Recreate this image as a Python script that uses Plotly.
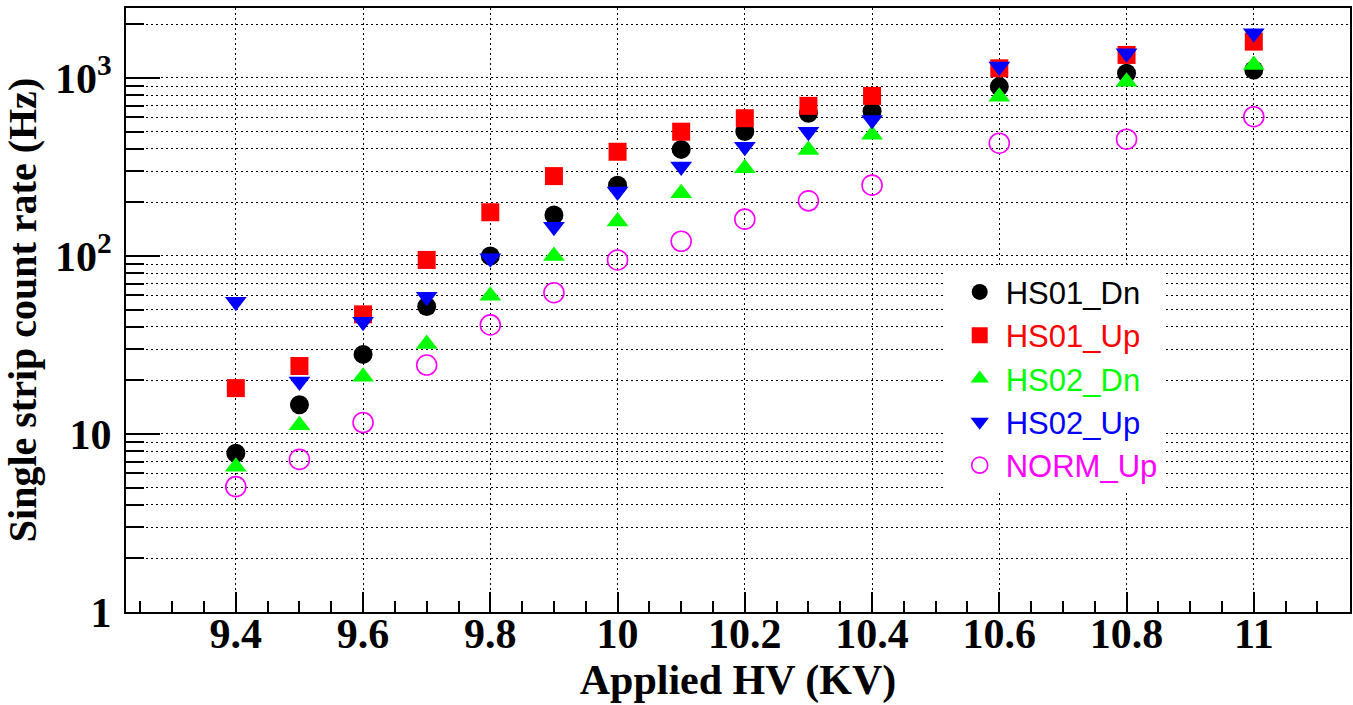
import plotly.graph_objects as go

# Data
hv = [9.4, 9.5, 9.6, 9.7, 9.8, 9.9, 10.0, 10.1, 10.2, 10.3, 10.4, 10.6, 10.8, 11.0]
hs01_dn = [7.8, 14.6, 28.0, 52.0, 100, 170, 250, 397, 500, 634, 650, 894, 1063, 1109]
hs01_up = [18.1, 24.1, 47.0, 95.0, 176, 281, 385, 499, 594, 697, 793, 1133, 1347, 1600]
hs02_dn = [6.55, 11.2, 21.0, 32.0, 59.8, 100, 156, 225, 311, 394, 479, 785, 953, 1183]
hs02_up = [55.4, 19.7, 42.7, 59.0, 97.0, 146, 230, 318, 411, 499, 581, 1158, 1376, 1783]
norm_up = [5.06, 7.2, 11.6, 24.4, 41.0, 62.2, 95.0, 121, 161, 204, 250, 430, 453, 606]

x_ticks = [9.4, 9.6, 9.8, 10.0, 10.2, 10.4, 10.6, 10.8, 11.0]
x_ticktext = ["9.4", "9.6", "9.8", "10", "10.2", "10.4", "10.6", "10.8", "11"]
y_ticks = [1, 10, 100, 1000]
y_ticktext = ["1", "10", "10<sup>2</sup>", "10<sup>3</sup>"]
y_minor = [m * 10 ** d for d in range(4) for m in range(2, 10)]

series = [
    ("HS01_Dn", hs01_dn, "circle", "#000000", 19),
    ("HS01_Up", hs01_up, "square", "#ff0000", 18),
    ("HS02_Dn", hs02_dn, "triangle-up", "#00ff00", 19),
    ("HS02_Up", hs02_up, "triangle-down", "#0000ff", 19),
    ("NORM_Up", norm_up, "circle-open", "#ff00ff", 20),
]

fig = go.Figure()
for i, (name, vals, sym, col, sz) in enumerate(series):
    marker = dict(symbol=sym, color=col, size=sz)
    if sym == "circle-open":
        marker["line"] = dict(color=col, width=1.6)
    else:
        marker["line"] = dict(width=0)
    fig.add_trace(go.Scatter(
        x=hv, y=vals, mode="markers", marker=marker,
        name=f"<span style='color:{col}'>{name}</span>",
        legendgroup=f"g{i}",
    ))

serif = "Liberation Serif, Times New Roman, serif"
grid_dash = "2px,3px"
fig.update_layout(
    width=1353, height=705,
    margin=dict(l=126, r=1, t=8, b=93, pad=0),
    paper_bgcolor="white", plot_bgcolor="white",
    showlegend=True,
    legend=dict(
        x=0.6697, y=0.574, xanchor="left", yanchor="top",
        bgcolor="white", borderwidth=0,
        font=dict(family="Liberation Sans, Arial, sans-serif", size=31),
        tracegroupgap=0, indentation=8, itemwidth=42,
    ),
    xaxis=dict(
        range=[9.2274, 11.1512],
        tickmode="array", tickvals=x_ticks, ticktext=x_ticktext,
        ticks="inside", ticklen=20, tickwidth=2, tickcolor="black",
        showline=True, linecolor="black", linewidth=2, mirror=True,
        showgrid=True, gridcolor="black", griddash=grid_dash, gridwidth=1.2,
        zeroline=False,
        tickfont=dict(family=serif, size=42, color="black", weight="bold"),
        ticklabelstandoff=-16,
        minor=dict(dtick=0.05, tick0=9.4, ticks="inside", ticklen=11,
                   tickwidth=2, tickcolor="black", showgrid=False),
        title=dict(text="Applied HV (KV)", standoff=6,
                   font=dict(family=serif, size=42, color="black", weight="bold")),
    ),
    yaxis=dict(
        type="log", range=[0, 3.393],
        tickmode="array", tickvals=y_ticks, ticktext=y_ticktext,
        ticks="inside", ticklen=34, tickwidth=2, tickcolor="black",
        showline=True, linecolor="black", linewidth=2, mirror=True,
        showgrid=True, gridcolor="black", griddash=grid_dash, gridwidth=1.2,
        zeroline=False,
        tickfont=dict(family=serif, size=42, color="black", weight="bold"),
        ticklabelstandoff=4,
        minor=dict(tickmode="array", tickvals=y_minor, ticks="inside", ticklen=18,
                   tickwidth=2, tickcolor="black", showgrid=True,
                   gridcolor="black", griddash=grid_dash, gridwidth=1.2),
        title=dict(text="Single strip count rate (Hz)", standoff=8,
                   font=dict(family=serif, size=40, color="black", weight="bold")),
    ),
)

fig.write_html("out.html")
